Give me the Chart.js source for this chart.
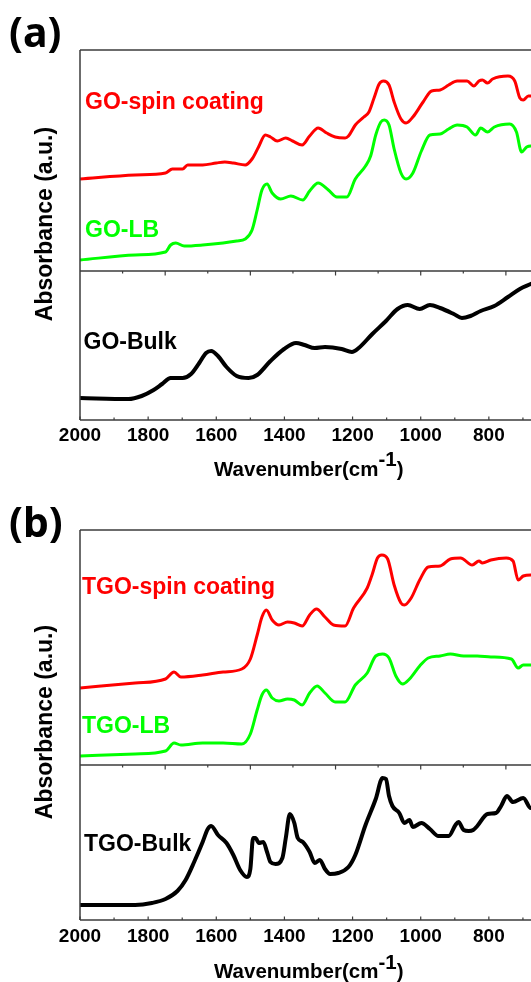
<!DOCTYPE html>
<html>
<head>
<meta charset="utf-8">
<script src="https://cdn.jsdelivr.net/npm/chart.js@4.4.0/dist/chart.umd.min.js"></script>
<style>
html,body{margin:0;padding:0;width:531px;height:982px;overflow:hidden;background:#fff;}
#wrap{position:relative;width:531px;height:982px;overflow:hidden;}
canvas{position:absolute;left:0;}
.t{position:absolute;font-family:"Liberation Sans",Arial,sans-serif;font-weight:bold;white-space:nowrap;line-height:1;}
.lab{font-size:23px;}
.pl{font-family:"Noto Sans",sans-serif;font-size:41px;color:#000;}
.yt{font-size:23px;color:#000;transform:translate(-50%,-50%) rotate(-90deg);}
.xt{font-size:20.5px;color:#000;}
.xt span{position:relative;top:-9.5px;}
</style>
</head>
<body>
<div id="wrap">
  <canvas id="aUp" width="600" height="280" style="top:0px"></canvas>
  <canvas id="aLo" width="600" height="240" style="top:260px"></canvas>
  <canvas id="bUp" width="600" height="300" style="top:480px"></canvas>
  <canvas id="bLo" width="600" height="232" style="top:750px"></canvas>

  <div class="t pl" style="left:9px;top:11px;">(a)</div>
  <div class="t pl" style="left:9px;top:501px;">(b)</div>

  <div class="t lab" style="left:85px;top:89.5px;color:#ff0000;">GO-spin coating</div>
  <div class="t lab" style="left:85px;top:217.5px;color:#00ff00;">GO-LB</div>
  <div class="t lab" style="left:83.5px;top:329.5px;color:#000;">GO-Bulk</div>
  <div class="t lab" style="left:82px;top:575.3px;color:#ff0000;">TGO-spin coating</div>
  <div class="t lab" style="left:82px;top:713.5px;color:#00ff00;">TGO-LB</div>
  <div class="t lab" style="left:84px;top:832px;color:#000;">TGO-Bulk</div>

  <div class="t yt" style="left:44px;top:224px;">Absorbance (a.u.)</div>
  <div class="t yt" style="left:44px;top:722px;">Absorbance (a.u.)</div>

  <div class="t xt" style="left:214px;top:458.6px;">Wavenumber(cm<span>-1</span>)</div>
  <div class="t xt" style="left:214px;top:961px;">Wavenumber(cm<span>-1</span>)</div>
</div>
<script>
// ---- axis / tick definitions ----
const xMax = 2000;
const xMin = 600;
const xTickLabels = [2000, 1800, 1600, 1400, 1200, 1000, 800];
const bottomMinorTicks = [1900, 1700, 1500, 1300, 1100, 900, 700];
const dividerMajorTicks = [1750, 1500, 1250, 1000, 750];
const dividerMinorTicks = [1875, 1625, 1375, 1125, 875, 625];

// ---- (a) GO spectra ----
const goSpinWn = [2000,1838,1749,1729,1699,1684,1640,1600,1575,1550,1515,1495,1476,1456,1441,1421,1396,1376,1348,1326,1301,1276,1251,1222,1212,1192,1167,1152,1137,1122,1109,1093,1078,1058,1043,1023,993,968,943,918,893,864,844,829,819,804,789,744,724,709,699,684,677,660];
const goSpinAbs = [92,96,98,102,102,106,106,108,109,108,106,112,124,136,134,130,133,130,126,135,143,138,134,133,135,146,154,159,173,187,190,186,169,152,148,154,169,180,181,186,190,190,185,190,191,188,192,195,190,173,171,175,175,174];

const goLbWn = [2000,1838,1749,1734,1719,1694,1640,1580,1540,1515,1495,1480,1466,1451,1436,1411,1381,1346,1326,1301,1271,1246,1217,1192,1162,1147,1132,1117,1107,1093,1078,1058,1043,1023,998,973,943,918,893,864,839,824,804,784,739,719,704,689,677,660];
const goLbAbs = [11,16,19,26,28,25,26,28,30,32,41,61,81,87,78,72,75,71,80,88,81,74,74,92,105,115,136,149,151,146,122,98,92,98,120,136,137,142,146,144,136,143,139,144,147,139,119,124,125,125];

const goBulkWn = [2000,1858,1819,1784,1759,1734,1699,1674,1650,1630,1615,1595,1570,1540,1505,1480,1441,1401,1366,1341,1311,1281,1232,1202,1182,1142,1102,1068,1038,1003,973,943,903,879,854,824,784,744,709,677,660];
const goBulkAbs = [22,21,24,30,36,42,42,46,57,67,69,64,53,44,42,45,59,71,77,75,72,73,71,68,72,86,99,111,115,111,115,112,106,102,104,109,114,123,131,136,139];

// ---- (b) TGO spectra ----
const tgoSpinWn = [2000,1838,1749,1724,1704,1640,1580,1525,1500,1480,1466,1453,1436,1416,1391,1371,1348,1326,1306,1281,1256,1222,1197,1157,1142,1127,1114,1097,1078,1058,1048,1028,1003,978,943,913,883,849,829,819,794,749,729,714,699,677,660];
const tgoSpinAbs = [77,82,86,93,88,90,93,96,106,130,148,155,145,140,143,142,139,150,156,148,140,139,157,177,191,207,210,206,180,162,160,167,185,198,199,206,207,200,204,202,205,207,204,185,189,190,190];

const tgoLbWn = [2000,1838,1749,1724,1704,1640,1580,1525,1500,1480,1466,1453,1436,1416,1391,1371,1348,1326,1304,1281,1251,1222,1192,1157,1132,1112,1093,1073,1053,1033,1003,978,943,913,874,834,794,734,714,699,677,660];
const tgoLbAbs = [9,11,14,22,20,22,22,21,31,55,70,75,67,64,66,65,60,72,79,72,63,63,80,92,109,111,107,89,81,86,99,107,109,111,109,109,108,106,97,100,100,100];

const tgoBulkWn = [2000,1838,1789,1749,1714,1690,1665,1640,1625,1615,1595,1570,1550,1530,1510,1500,1492,1485,1475,1462,1451,1441,1426,1406,1396,1384,1371,1361,1346,1326,1311,1296,1281,1266,1242,1212,1192,1162,1132,1112,1102,1093,1083,1063,1048,1033,1023,998,973,948,918,898,889,874,859,846,834,804,779,764,747,729,699,677,660];
const tgoBulkAbs = [15,15,17,21,29,40,58,78,91,94,85,77,65,50,43,51,82,82,77,78,68,58,56,62,82,106,97,82,78,68,57,60,51,46,47,53,65,95,121,142,141,124,114,107,97,100,93,97,91,84,84,95,98,90,89,90,94,106,107,114,124,118,122,112,115];

const RED = '#ff0000', GREEN = '#00ff00', BLACK = '#000000';

function series(label, wn, abs, color, width) {
  return {
    label, data: wn.map((w, i) => ({x: w, y: abs[i]})),
    borderColor: color, backgroundColor: color, borderWidth: width,
    pointRadius: 0, fill: false, cubicInterpolationMode: 'monotone'
  };
}

const framePlugin = {
  id: 'frame',
  afterDraw(chart, args, o) {
    const {ctx, chartArea: a} = chart;
    const x = chart.scales.x;
    ctx.save();
    ctx.strokeStyle = '#3c3c3c';
    ctx.lineWidth = 1.5;
    ctx.beginPath();
    ctx.moveTo(a.left, a.top); ctx.lineTo(a.left, a.bottom);
    if (o.top) { ctx.moveTo(a.left, a.top); ctx.lineTo(chart.width, a.top); }
    if (o.bottom) { ctx.moveTo(a.left, a.bottom); ctx.lineTo(chart.width, a.bottom); }
    ctx.stroke();
    ctx.lineWidth = 1.2;
    ctx.beginPath();
    const tick = (vals, y, len) => vals.forEach(v => {
      const px = x.getPixelForValue(v);
      ctx.moveTo(px, y); ctx.lineTo(px, y + len);
    });
    if (o.dividerTicks) {
      tick(dividerMajorTicks, a.top, 4.5);
      tick(dividerMinorTicks, a.top, 2.5);
    }
    if (o.bottom) {
      tick(xTickLabels, a.bottom, -3.5);
      tick(bottomMinorTicks, a.bottom, -2.5);
    }
    ctx.stroke();
    ctx.restore();
  }
};

function makeChart(id, datasets, yMax, pad, axisH, labelPad, frame) {
  const showX = axisH > 0;
  return new Chart(document.getElementById(id), {
    type: 'line',
    data: {datasets},
    options: {
      responsive: false, animation: false, devicePixelRatio: 1, events: [],
      layout: {padding: pad},
      plugins: {legend: {display: false}, tooltip: {enabled: false}, frame},
      scales: {
        x: {
          type: 'linear', reverse: true, min: xMin, max: xMax, display: showX,
          afterFit: (s) => { if (showX) s.height = axisH; },
          grid: {display: false, drawTicks: false},
          border: {display: false},
          ticks: {
            stepSize: 100, autoSkip: false, maxRotation: 0, minRotation: 0,
            padding: labelPad, color: '#000',
            font: {family: '"Liberation Sans", Arial, sans-serif', size: 19, weight: 'bold'},
            callback: (v) => xTickLabels.includes(v) ? String(v) : ''
          }
        },
        y: {display: false, min: 0, max: yMax}
      }
    },
    plugins: [framePlugin]
  });
}

makeChart('aUp', [
  series('GO-spin coating', goSpinWn, goSpinAbs, RED, 3),
  series('GO-LB', goLbWn, goLbAbs, GREEN, 3)
], 221, {left: 80, right: 43, top: 50, bottom: 9}, 0, 0, {top: true});

makeChart('aLo', [
  series('GO-Bulk', goBulkWn, goBulkAbs, BLACK, 4)
], 149, {left: 80, right: 43, top: 11, bottom: 0}, 80, 4, {top: true, bottom: true, dividerTicks: true});

makeChart('bUp', [
  series('TGO-spin coating', tgoSpinWn, tgoSpinAbs, RED, 3),
  series('TGO-LB', tgoLbWn, tgoLbAbs, GREEN, 3)
], 235, {left: 80, right: 43, top: 50, bottom: 15}, 0, 0, {top: true});

makeChart('bLo', [
  series('TGO-Bulk', tgoBulkWn, tgoBulkAbs, BLACK, 4)
], 155, {left: 80, right: 43, top: 15, bottom: 0}, 62, 5, {top: true, bottom: true, dividerTicks: true});
</script>
</body>
</html>
